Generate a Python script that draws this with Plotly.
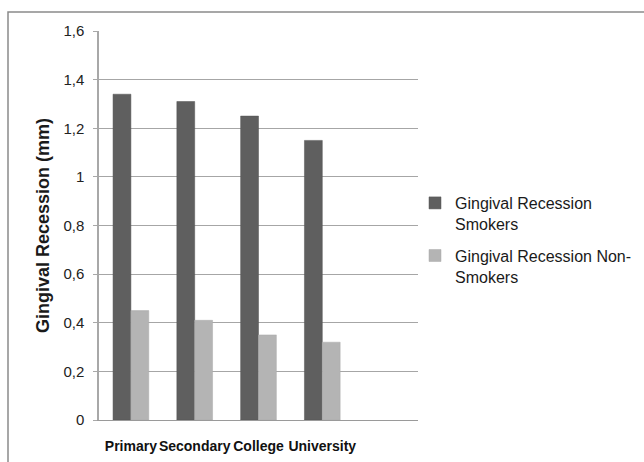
import plotly.graph_objects as go

# Education levels (a fifth, empty slot keeps the trailing space on the axis)
levels = ["Primary", "Secondary", "College", "University"]
smokers = [1.34, 1.31, 1.25, 1.15]
non_smokers = [0.45, 0.41, 0.35, 0.32]
y_ticks = [0, 0.2, 0.4, 0.6, 0.8, 1.0, 1.2, 1.4, 1.6]

W, H = 644, 462
L, R, T, B = 99, 226, 31, 42

fig = go.Figure()
fig.add_trace(go.Bar(
    x=levels, y=smokers, name="Gingival Recession<br>Smokers",
    legendgroup="smokers",
    marker=dict(color="#5f5f5f", line=dict(color="#555555", width=0.5)),
))
fig.add_trace(go.Bar(
    x=levels, y=non_smokers, name="Gingival Recession Non-<br>Smokers",
    legendgroup="non_smokers",
    marker=dict(color="#b4b4b4", line=dict(color="#aaaaaa", width=0.5)),
))

# outer chart frame (runs off the right and bottom edges)
pw, ph = W - L - R, H - T - B
fig.add_shape(
    type="rect", xref="paper", yref="paper",
    x0=(8 - L) / pw, x1=(W + 5 - L) / pw,
    y0=-(B + 5) / ph, y1=1 + (T - 12) / ph,
    line=dict(color="#8a8a8a", width=1.5), fillcolor="rgba(0,0,0,0)", layer="below",
)

fig.update_layout(
    width=W, height=H,
    margin=dict(l=L, r=R, t=T, b=B, autoexpand=False),
    paper_bgcolor="white", plot_bgcolor="white",
    barmode="group", bargap=0.44, bargroupgap=0,
    separators=", ",
    font=dict(family="Liberation Sans, Arial, sans-serif", color="#1a1a1a"),
    showlegend=True,
    legend=dict(
        x=(415 - L) / pw, xanchor="left", y=(420 - 186) / ph, yanchor="top",
        font=dict(size=16, color="#1a1a1a"),
        bgcolor="rgba(0,0,0,0)", valign="top",
        tracegroupgap=8, itemwidth=30,
    ),
    xaxis=dict(
        type="category", range=[-0.5, 4.5],
        categoryorder="array", categoryarray=levels,
        showline=True, linecolor="#9a9a9a", linewidth=1,
        ticks="", tickangle=0, showgrid=False,
        tickfont=dict(size=14, color="#111111", weight="bold",
                      family="Liberation Sans, Arial, sans-serif"),
        ticklabelstandoff=13,
    ),
    yaxis=dict(
        range=[0, 1.6], tickvals=y_ticks,
        showline=True, linecolor="#a8a8a8", linewidth=1.5,
        ticks="outside", ticklen=4, tickcolor="#a8a8a8",
        gridcolor="#a6a6a6", gridwidth=1,
        tickfont=dict(size=15, color="#222222"),
        ticklabelstandoff=6,
        zeroline=False,
        title=dict(
            text="<b>Gingival Recession (mm)</b>",
            font=dict(size=18, color="#1a1a1a"),
            standoff=9,
        ),
    ),
)

fig.write_html("out.html")
